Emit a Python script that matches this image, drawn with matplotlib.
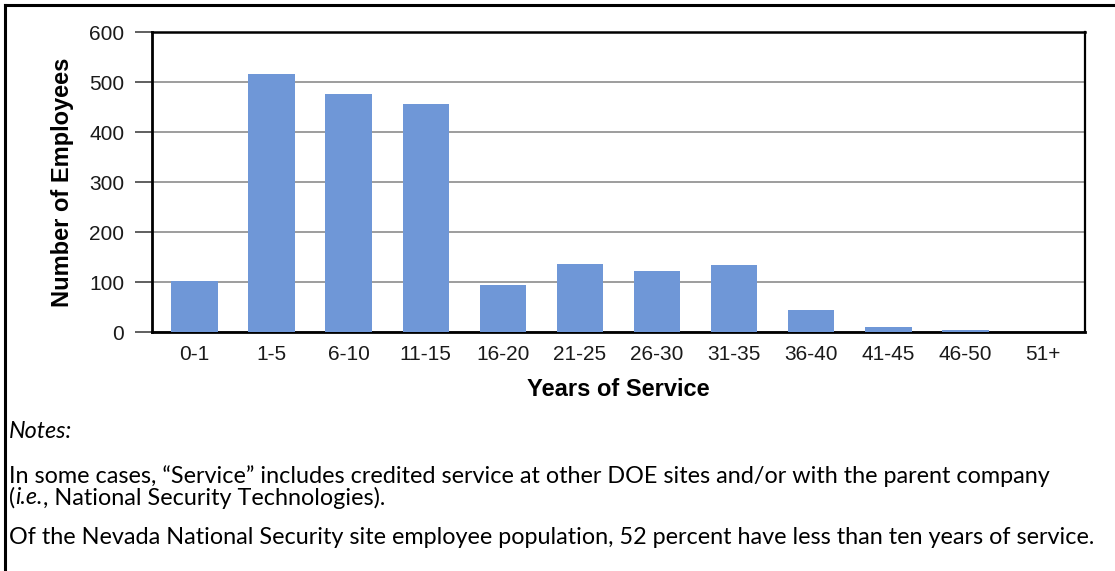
import matplotlib
matplotlib.use("Agg")
import matplotlib.pyplot as plt
from matplotlib.lines import Line2D

# Service-length bins and headcounts
categories = ["0-1", "1-5", "6-10", "11-15", "16-20", "21-25",
              "26-30", "31-35", "36-40", "41-45", "46-50", "51+"]
employees = [103, 517, 476, 456, 94, 137, 123, 134, 44, 11, 5, 1]
y_ticks = [0, 100, 200, 300, 400, 500, 600]

notes_heading = "Notes:"
note_line_1 = "In some cases, \u201cService\u201d includes credited service at other DOE sites and/or with the parent company"
note_line_2a = "("
note_line_2b = "i.e."
note_line_2c = ", National Security Technologies)."
note_line_3 = ("Of the Nevada National Security site employee population, "
               "52 percent have less than ten years of service.")

W, H = 1115, 571
fig = plt.figure(figsize=(W / 100, H / 100), dpi=100)

# Outer frame (top and left edges)
fig.add_artist(Line2D([5 / W, 5 / W], [0, 1 - 5 / H], color="black", lw=2.2,
                      transform=fig.transFigure))
fig.add_artist(Line2D([5 / W, 1], [1 - 5 / H, 1 - 5 / H], color="black", lw=2.2,
                      transform=fig.transFigure))

left, right, top, bottom = 152, 1085, 32, 332
ax = fig.add_axes([left / W, 1 - bottom / H, (right - left) / W, (bottom - top) / H])

x = range(len(categories))
ax.bar(x, employees, width=0.6, color="#6f97d7", zorder=3)

ax.set_xlim(-0.55, len(categories) - 0.45)
ax.set_ylim(0, 600)
ax.set_yticks(y_ticks)
ax.set_xticks(list(x))
ax.set_xticklabels(categories)
ax.yaxis.grid(True, color="#8c8c8c", lw=1.2, zorder=0)
ax.set_axisbelow(True)

for side in ["left", "bottom", "right", "top"]:
    ax.spines[side].set_color("black")
ax.spines["left"].set_linewidth(2.0)
ax.spines["bottom"].set_linewidth(2.0)
ax.spines["right"].set_linewidth(1.6)
ax.spines["top"].set_linewidth(1.8)

ax.tick_params(axis="y", direction="out", length=12, width=1.2, color="#444444",
               labelsize=15, pad=8, labelcolor="#1a1a1a")
ax.tick_params(axis="x", length=0, labelsize=15, pad=9, labelcolor="#1a1a1a")
for lbl in ax.get_xticklabels() + ax.get_yticklabels():
    lbl.set_fontfamily("Liberation Sans")

ax.set_ylabel("Number of Employees", fontsize=17, fontweight="bold",
              fontfamily="Liberation Sans", va="center")
ax.yaxis.set_label_coords(-90 / (right - left), 0.5)
ax.set_xlabel("Years of Service", fontsize=17, fontweight="bold",
              fontfamily="Liberation Sans", va="center")
ax.xaxis.set_label_coords(0.5, -(390 - bottom) / (bottom - top))

# Notes block
note_font = dict(fontfamily="Lato", fontsize=16.8, color="black", va="center")
tx = 9 / W
fig.text(tx, 1 - 431 / H, notes_heading, style="italic", **note_font)
fig.text(tx, 1 - 476 / H, note_line_1, **note_font)
t1 = fig.text(tx, 1 - 498 / H, note_line_2a, **note_font)
fig.canvas.draw()
r = fig.canvas.get_renderer()
bb = t1.get_window_extent(r)
t2 = fig.text(bb.x1 / W, 1 - 498 / H, note_line_2b, style="italic", **note_font)
bb2 = t2.get_window_extent(r)
fig.text(bb2.x1 / W, 1 - 498 / H, note_line_2c, **note_font)
fig.text(tx, 1 - 537 / H, note_line_3, **note_font)

fig.savefig("out.png", dpi=100, facecolor="white")
